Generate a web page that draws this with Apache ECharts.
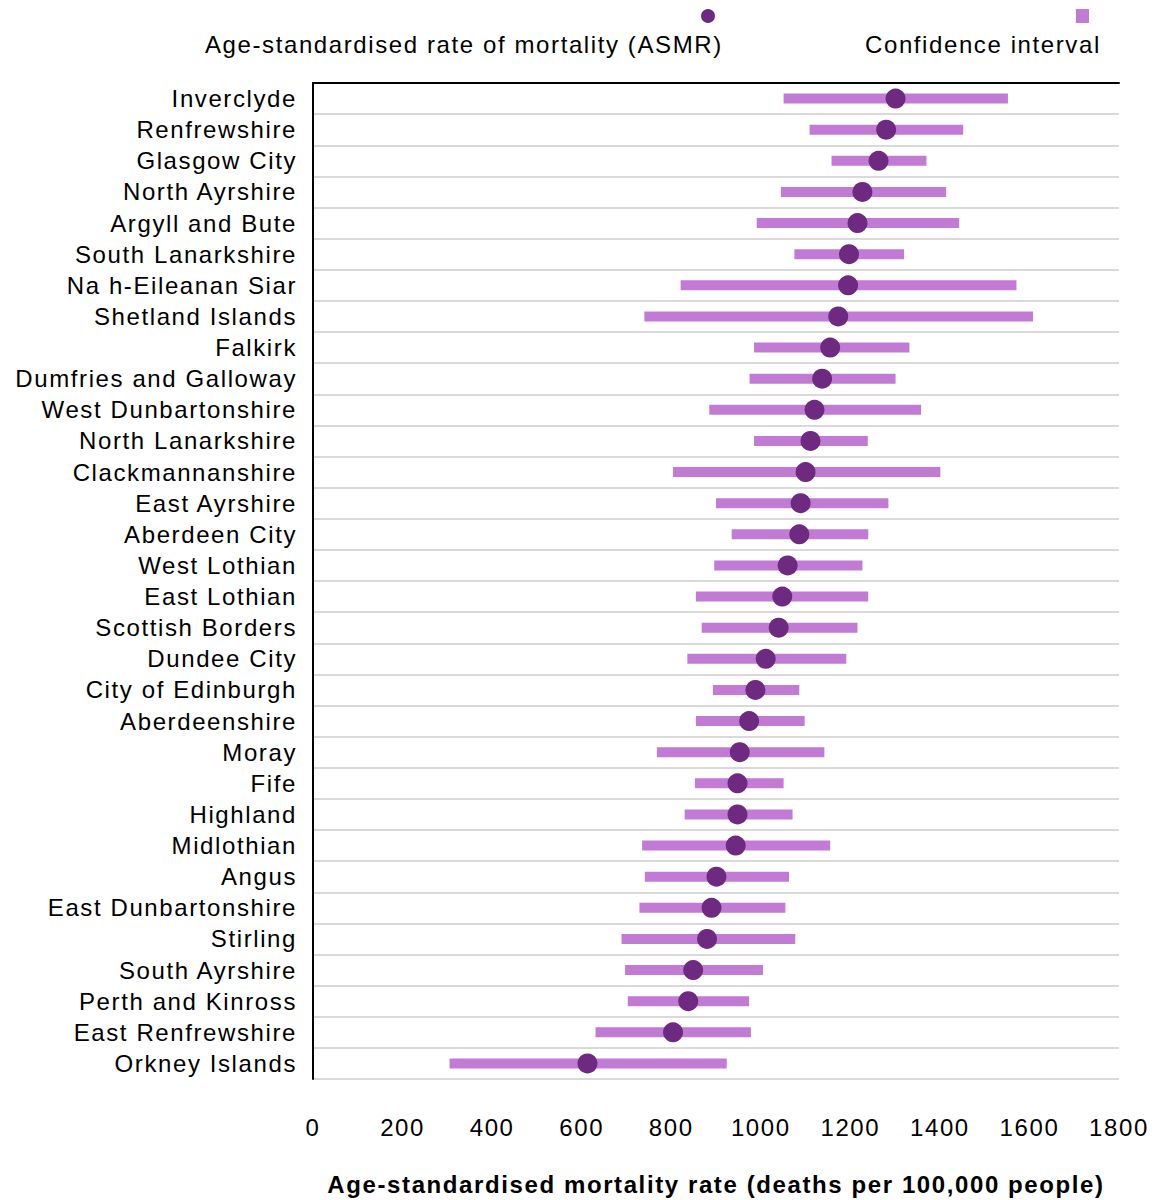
<!DOCTYPE html>
<html>
<head>
<meta charset="utf-8">
<script src="https://cdn.jsdelivr.net/npm/echarts@6/dist/echarts.min.js"></script>
<style>
  html, body { margin: 0; padding: 0; background: #ffffff; }
  #chart { width: 1160px; height: 1200px; }
  #chart text { letter-spacing: 1.6px; }
</style>
</head>
<body>
<div id="chart"></div>
<script>
const categories = ['Inverclyde','Renfrewshire','Glasgow City','North Ayrshire','Argyll and Bute','South Lanarkshire','Na h-Eileanan Siar','Shetland Islands','Falkirk','Dumfries and Galloway','West Dunbartonshire','North Lanarkshire','Clackmannanshire','East Ayrshire','Aberdeen City','West Lothian','East Lothian','Scottish Borders','Dundee City','City of Edinburgh','Aberdeenshire','Moray','Fife','Highland','Midlothian','Angus','East Dunbartonshire','Stirling','South Ayrshire','Perth and Kinross','East Renfrewshire','Orkney Islands'];
const asmr = [1301,1280,1263,1227,1216,1197,1195,1173,1155,1137,1120,1111,1100,1089,1086,1060,1048,1040,1011,988,974,953,948,948,944,901,890,880,849,838,804,613];
const ciLow = [1051,1109,1158,1045,991,1075,821,740,985,975,885,985,804,900,935,896,855,868,836,893,855,768,853,830,735,741,729,689,697,703,631,305];
const ciHigh = [1552,1452,1370,1414,1443,1320,1571,1608,1332,1301,1358,1239,1401,1285,1240,1227,1240,1216,1191,1086,1098,1142,1051,1071,1155,1063,1055,1077,1005,974,978,924];
const xTicks = [0,200,400,600,800,1000,1200,1400,1600,1800];

const asmrName = 'Age-standardised rate of mortality (ASMR)';
const ciName = 'Confidence interval';
const axisTitle = 'Age-standardised mortality rate (deaths per 100,000 people)';

const FONT = '"Liberation Sans", Arial, sans-serif';
const DOT = '#6d2a80';
const BAR = '#c17bd4';

const chart = echarts.init(document.getElementById('chart'), null, { renderer: 'svg' });

const ciData = categories.map((c, i) => [i, ciLow[i], ciHigh[i]]);
const dotData = categories.map((c, i) => [asmr[i], c]);

chart.setOption({
  animation: false,
  backgroundColor: '#ffffff',
  textStyle: { fontFamily: FONT },
  grid: { left: 313, right: 41, top: 83, bottom: 121, containLabel: false, outerBoundsMode: 'none' },
  legend: [
    {
      left: 195, top: 27, itemWidth: 0, itemHeight: 14,
      data: [{ name: asmrName, icon: 'none' }],
      textStyle: { fontSize: 24, color: '#000', fontFamily: FONT },
      selectedMode: false
    },
    {
      left: 855, top: 27, itemWidth: 0, itemHeight: 14,
      data: [{ name: ciName, icon: 'none' }],
      textStyle: { fontSize: 24, color: '#000', fontFamily: FONT },
      selectedMode: false
    }
  ],
  graphic: [
    { type: 'circle', shape: { cx: 708, cy: 16, r: 7 }, style: { fill: DOT } },
    { type: 'rect', shape: { x: 1076, y: 9, width: 13, height: 14 }, style: { fill: BAR } }
  ],
  xAxis: [
    {
      type: 'value', min: xTicks[0], max: xTicks[xTicks.length - 1], interval: 200,
      position: 'bottom',
      axisLine: { show: false }, axisTick: { show: false }, splitLine: { show: false },
      axisLabel: { fontSize: 24, color: '#000', margin: 36, fontFamily: FONT, formatter: v => String(v) },
      name: axisTitle, nameLocation: 'middle', nameGap: 93,
      nameTextStyle: { fontSize: 24, fontWeight: 'bold', color: '#000', fontFamily: FONT }
    },
    {
      type: 'value', min: xTicks[0], max: xTicks[xTicks.length - 1], interval: 200,
      position: 'top',
      axisLine: { show: true, lineStyle: { color: '#000', width: 2 } },
      axisTick: { show: false }, axisLabel: { show: false }, splitLine: { show: false }
    }
  ],
  yAxis: {
    type: 'category', inverse: true, data: categories,
    axisLine: { show: true, lineStyle: { color: '#000', width: 2 } },
    axisTick: { show: false, interval: 0 },
    axisLabel: { fontSize: 24, color: '#000', margin: 16, fontFamily: FONT, interval: 0 },
    splitLine: { show: true, interval: 0, lineStyle: { color: '#d9d9d9', width: 2 } }
  },
  series: [
    {
      name: ciName, type: 'custom', xAxisIndex: 0, z: 2,
      data: ciData,
      encode: { x: [1, 2], y: 0 },
      renderItem: function (params, api) {
        const yi = api.value(0);
        const lo = api.coord([api.value(1), yi]);
        const hi = api.coord([api.value(2), yi]);
        const h = 10;
        return {
          type: 'rect',
          shape: { x: lo[0], y: lo[1] - h / 2, width: hi[0] - lo[0], height: h },
          style: { fill: BAR }
        };
      }
    },
    {
      name: asmrName, type: 'scatter', xAxisIndex: 0, z: 5,
      symbol: 'circle', symbolSize: 20,
      itemStyle: { color: DOT, opacity: 1 },
      data: dotData
    }
  ]
});
</script>
</body>
</html>
